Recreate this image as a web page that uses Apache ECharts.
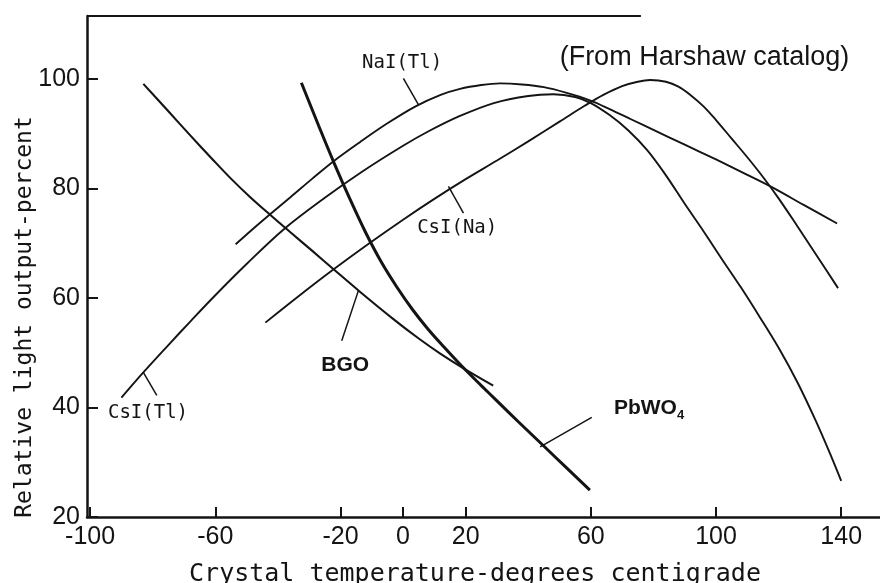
<!DOCTYPE html>
<html>
<head>
<meta charset="utf-8">
<title>Relative light output vs crystal temperature</title>
<script src="https://cdn.jsdelivr.net/npm/echarts@6/dist/echarts.min.js"></script>
<style>
  html, body { margin: 0; padding: 0; background: #fff; }
  #chart { width: 880px; height: 583px; }
</style>
</head>
<body>
<div id="chart"></div>
<script>
// Temperature (°C) vs relative light output (%) for each crystal
const nai_tl = [[-53.5,69.8],[-48,72.6],[-42.5,75.3],[-36,78.4],[-29,81.8],[-22.4,84.9],[-13.7,88.5],[-5,91.9],[4,95.0],[12,97.1],[18.2,98.2],[25,98.9],[31,99.2],[38,99],[45,98.5],[52,97.5],[59.7,96.1],[66,94.5],[73,92.6],[80,90.7],[90,88],[100,85.3],[110,82.5],[118,80.2],[128,77],[138.7,73.6]];
const csi_tl = [[-90,41.8],[-83,46.4],[-75,51.4],[-68,55.7],[-60,60.5],[-50,66.2],[-38,72.6],[-25,78.3],[-13,83.1],[0,87.8],[8,90.4],[18,93.2],[29,95.6],[40,96.9],[48,97.2],[55,96.7],[60,95.6],[66,93.4],[72,90.6],[78,87],[84,82.4],[90,77.2],[96,72.2],[102,67],[108,61.9],[114,56.5],[120,50.9],[126,44.6],[132,37.4],[137,30.8],[140,26.6]];
const csi_na = [[-44,55.5],[-33,60.5],[-22.5,65.1],[-11,69.9],[0,74.3],[10,78.1],[20,81.7],[30,85.1],[40,88.6],[50,92.2],[58,95.1],[64,97.1],[70,98.7],[75,99.5],[79,99.8],[84,99.5],[88,98.6],[92,97],[96,95],[100,92.5],[105,89.1],[110,85.7],[115,82.1],[120,78.2],[126,73.1],[132,67.9],[139,61.8]];
const bgo = [[-83,99.1],[-75,94.1],[-68,89.7],[-61,85.4],[-55,81.8],[-49,78.5],[-42.5,75.2],[-36,72],[-29,68.6],[-22.3,65.3],[-13.7,61.1],[-3,56.1],[5,52.6],[12,49.8],[19.2,47.2],[28.8,44]];
const pbwo4 = [[-32.5,99.3],[-27,91.5],[-22,84.6],[-17,78.1],[-12,72],[-7,66.6],[-2,62],[3,57.9],[8,54.3],[13,51.1],[19.2,47.3],[25,44],[30,41.2],[37,37.3],[44.7,33.1],[52,29.1],[59.7,24.9]];

// Axis ticks
const xTicks = [-100, -60, -20, 0, 20, 60, 100, 140];
const yTicks = [20, 40, 60, 80, 100];

// Callouts: leader line (two points) and label anchor, in data units
const callouts = [
  { text: 'NaI(Tl)', leader: [[0.1,100.1],[4.9,95.3]], at: [-0.3,102.9], kind: 'mono' },
  { text: 'CsI(Na)', leader: [[14.5,80.4],[19.3,75.5]], at: [17.3,72.7], kind: 'mono' },
  { text: 'CsI(Tl)', leader: [[-83,46.4],[-78.7,42.2]], at: [-81.5,38.9], kind: 'mono' },
  { text: 'BGO', leader: [[-14.3,61.3],[-19.6,52.2]], at: [-18.5,47.8], kind: 'bold' },
  { text: '{a|PbWO}{s|4}', leader: [[43.8,32.8],[60.3,38.2]], at: [78.6,39.8], kind: 'bold' }
];
const sourceNote = { text: '(From Harshaw catalog)', at: [96.3,104] };

const ink = '#141414';
const chart = echarts.init(document.getElementById('chart'), null, { renderer: 'canvas' });

function curve(name, data, width) {
  return {
    name, type: 'line', data, showSymbol: false, smooth: 0.35, silent: true,
    lineStyle: { color: ink, width }, z: 3
  };
}

const series = [
  curve('NaI(Tl)', nai_tl, 1.9),
  curve('CsI(Tl)', csi_tl, 1.9),
  curve('CsI(Na)', csi_na, 1.9),
  curve('BGO', bgo, 2.1),
  curve('PbWO4', pbwo4, 3)
];

callouts.forEach(c => {
  series.push({
    type: 'line', data: c.leader, showSymbol: false, silent: true,
    lineStyle: { color: ink, width: 1.5 }, z: 3
  });
});

// Top frame line, running part way across
series.push({
  type: 'line', data: [], silent: true,
  markLine: {
    silent: true, symbol: 'none', label: { show: false },
    lineStyle: { color: ink, width: 2, type: 'solid' },
    data: [[{ coord: [-101, 111.5] }, { coord: [76, 111.5] }]]
  }
});

chart.setOption({
  animation: false,
  backgroundColor: '#ffffff',
  grid: { left: 87, right: 0, top: 16, bottom: 66 },
  xAxis: {
    type: 'value', min: -101, max: 152.4,
    splitLine: { show: false },
    axisLine: { onZero: false, lineStyle: { color: ink, width: 2.5 } },
    axisTick: { inside: true, length: 10, customValues: xTicks, lineStyle: { color: ink, width: 2 } },
    axisLabel: { customValues: xTicks, margin: 8, color: ink, fontFamily: 'Liberation Sans', fontSize: 25 }
  },
  yAxis: {
    type: 'value', min: 20, max: 111.5,
    splitLine: { show: false },
    axisLine: { show: true, onZero: false, lineStyle: { color: ink, width: 2.5 } },
    axisTick: { show: true, inside: true, length: 11, customValues: yTicks, lineStyle: { color: ink, width: 2 } },
    axisLabel: { customValues: yTicks, margin: 7, color: ink, fontFamily: 'Liberation Sans', fontSize: 25 }
  },
  series
});

// Text annotations, placed through the chart's own coordinate conversion
const fonts = {
  mono: '19px "DejaVu Sans Mono"',
  bold: 'bold 21px "Liberation Sans"'
};
const graphics = [
  {
    type: 'text', x: 475, y: 574, silent: true,
    style: { text: 'Crystal temperature-degrees centigrade', fill: ink,
             font: '25px "DejaVu Sans Mono"', align: 'center', verticalAlign: 'middle' }
  },
  {
    type: 'text', x: 25, y: 317, rotation: Math.PI / 2, silent: true,
    style: { text: 'Relative light output-percent', fill: ink,
             font: '23px "DejaVu Sans Mono"', align: 'center', verticalAlign: 'middle' }
  }
];
callouts.forEach(c => {
  const p = chart.convertToPixel({ gridIndex: 0 }, c.at);
  graphics.push({
    type: 'text', x: p[0], y: p[1], silent: true,
    style: {
      text: c.text, fill: ink, font: fonts[c.kind], align: 'center', verticalAlign: 'middle',
      rich: {
        a: { font: 'bold 21px "Liberation Sans"', fill: ink, lineHeight: 26 },
        s: { font: 'bold 13px "Liberation Sans"', fill: ink, lineHeight: 26, verticalAlign: 'bottom', padding: [12, 0, 0, 0] }
      }
    }
  });
});
const np = chart.convertToPixel({ gridIndex: 0 }, sourceNote.at);
graphics.push({
  type: 'text', x: np[0], y: np[1], silent: true,
  style: { text: sourceNote.text, fill: ink, font: '27px "Liberation Sans"', align: 'center', verticalAlign: 'middle' }
});
chart.setOption({ graphic: graphics });
</script>
</body>
</html>
